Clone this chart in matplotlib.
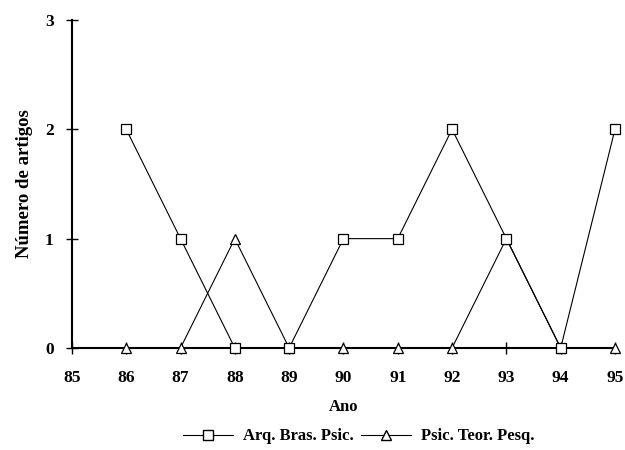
import matplotlib
matplotlib.use("Agg")
import matplotlib.pyplot as plt
from matplotlib.lines import Line2D

plt.rcParams['font.family'] = ['Liberation Serif', 'DejaVu Serif']

years = [86, 87, 88, 89, 90, 91, 92, 93, 94, 95]
arq_bras = [2, 1, 0, 0, 1, 1, 2, 1, 0, 2]
psic_teor = [0, 0, 1, 0, 0, 0, 0, 1, 0, 0]
xticks = list(range(85, 96))
yticks = [0, 1, 2, 3]

fig = plt.figure(figsize=(6.25, 4.5), dpi=100)
ax = fig.add_axes([0.115, 0.2267, 0.869, 0.729])

ax.plot(years, psic_teor, color='black', lw=0.8, marker='^', ms=7,
        mfc='white', mec='black', mew=0.9, label='Psic. Teor. Pesq.', zorder=3)
ax.plot(years, arq_bras, color='black', lw=0.8, marker='s', ms=7,
        mfc='white', mec='black', mew=0.9, label='Arq. Bras. Psic.', zorder=4)

ax.set_xlim(85, 95)
ax.set_ylim(0, 3)
ax.set_xticks(xticks)
ax.set_xticklabels([str(t) for t in xticks])
ax.set_yticks(yticks)
ax.spines['top'].set_visible(False)
ax.spines['right'].set_visible(False)
ax.spines['left'].set_linewidth(1.5)
ax.spines['bottom'].set_linewidth(1.5)
for ln in ax.lines:
    ln.set_clip_on(False)
ax.tick_params(axis='both', direction='inout', length=8, width=1, labelsize=12.5)
ax.tick_params(axis='x', pad=12)
ax.tick_params(axis='y', pad=9)
for lab in ax.get_xticklabels() + ax.get_yticklabels():
    lab.set_fontweight('bold')

ax.set_xlabel('Ano', fontsize=12, fontweight='bold', labelpad=9)
ax.set_ylabel('Número de artigos', fontsize=13.5, fontweight='bold', labelpad=9)

handles = [
    Line2D([], [], color='black', lw=0.8, marker='s', ms=7, mfc='white', mec='black'),
    Line2D([], [], color='black', lw=0.8, marker='^', ms=7, mfc='white', mec='black'),
]
fig.legend(handles, ['Arq. Bras. Psic.', 'Psic. Teor. Pesq.'], loc='center',
           bbox_to_anchor=(0.574, 0.03), ncol=2, frameon=False,
           handlelength=3.0, columnspacing=0.4, handletextpad=0.6,
           prop={'weight': 'bold', 'size': 12})

fig.savefig('out.png', dpi=100)
